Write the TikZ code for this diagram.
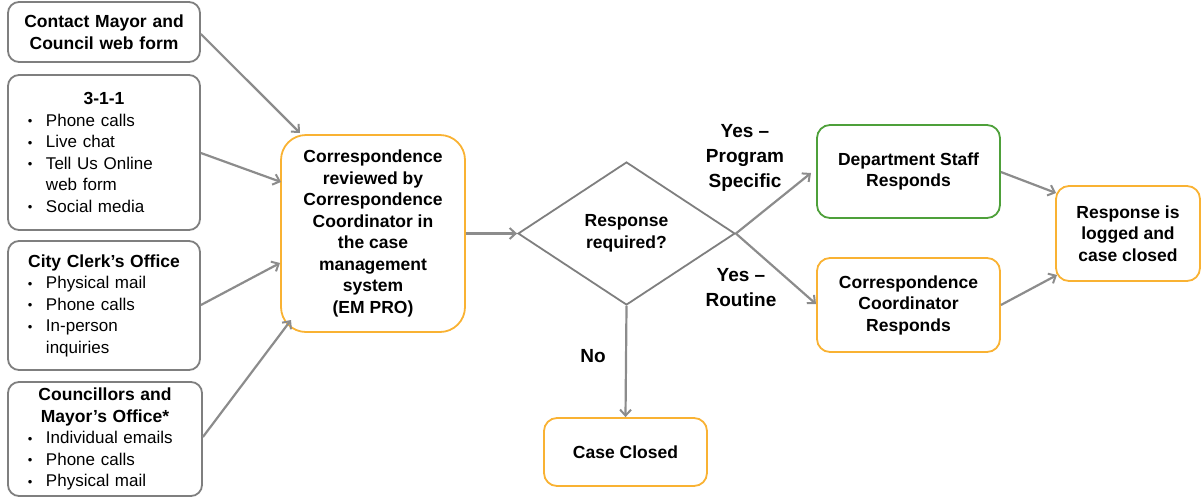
\documentclass[tikz,border=0pt]{standalone}
\usepackage{fontspec}
\setmainfont{Liberation Sans}
\usetikzlibrary{shapes.geometric,arrows.meta}
\definecolor{boxgray}{HTML}{7F7F7F}
\definecolor{arrgray}{HTML}{8C8C8C}
\definecolor{orng}{HTML}{F9B233}
\definecolor{grn}{HTML}{4EA03A}
\newcommand\bitem[1]{\par\hangindent=38pt\hangafter=1\noindent\hspace*{20pt}\makebox[18pt][l]{\raisebox{0.5pt}{\fontsize{13}{13}\selectfont\textbullet}}#1\par}
\begin{document}
\begin{tikzpicture}[x=1pt,y=-1pt,
  every node/.style={font=\fontsize{17}{21.5}\selectfont},
  srcbox/.style={draw=boxgray,line width=1.8pt,rounded corners=11pt,minimum width=192pt,text width=192pt,inner xsep=0pt,inner ysep=0pt,align=left},
  obox/.style={draw=orng,line width=1.8pt,rounded corners=13pt,align=center,font=\fontsize{17.5}{21.5}\selectfont\bfseries},
  gbox/.style={draw=grn,line width=1.8pt,rounded corners=13pt,align=center,font=\fontsize{17.5}{21.5}\selectfont\bfseries},
  arr/.style={draw=arrgray,line width=2.2pt,-{Straight Barb[length=6pt,width=11pt,line width=2pt]}},
  lbl/.style={align=center,font=\fontsize{19}{25}\selectfont\bfseries}
]
\useasboundingbox (0,0) rectangle (1204,499);
% sources
\node[srcbox,minimum height=60pt,align=center,font=\fontsize{17.5}{21.5}\selectfont\bfseries] (contact) at (104,32) {Contact Mayor and\\Council web form};
\node[srcbox,minimum height=155pt] (tto) at (104,152.5) {{\centering\bfseries\fontsize{17.5}{21.5}\selectfont 3-1-1\par}%
\bitem{Phone calls}\bitem{Live chat}\bitem{Tell Us Online\newline web form}\bitem{Social media}};
\node[srcbox,minimum height=129pt] (clerk) at (104,305.5) {{\centering\bfseries\fontsize{17.5}{21.5}\selectfont City Clerk’s Office\par}%
\bitem{Physical mail}\bitem{Phone calls}\bitem{In-person\newline inquiries}};
\node[srcbox,minimum height=114pt,minimum width=194pt,text width=194pt] (council) at (105,439) {{\centering\bfseries\fontsize{17.5}{21.5}\selectfont Councillors and\\ Mayor’s Office*\par}%
\bitem{Individual emails}\bitem{Phone calls}\bitem{Physical mail}};
% central
\node[obox,minimum width=184pt,minimum height=197pt,rounded corners=25pt] (review) at (373,233.5) {Correspondence\\reviewed by\\Correspondence\\Coordinator in\\the case\\management\\system\\(EM PRO)};
% decision
\node[draw=boxgray,line width=1.8pt,diamond,minimum width=217pt,minimum height=143pt,inner sep=0pt,align=center,font=\fontsize{17.5}{21.5}\selectfont\bfseries] (dec) at (626.5,233.5) {Response\\required?};
% outcomes
\node[gbox,minimum width=183pt,minimum height=93pt] (dept) at (908.5,171.5) {Department Staff\\Responds};
\node[obox,minimum width=183pt,minimum height=94pt] (coord) at (908.5,305) {Correspondence\\Coordinator\\Responds};
\node[obox,minimum width=144pt,minimum height=95pt] (logged) at (1128,233.5) {Response is\\logged and\\case closed};
\node[obox,minimum width=163pt,minimum height=68pt] (closed) at (625.5,452) {Case Closed};
% labels
\node[lbl] (lps) at (745,158) {Yes –\\Program\\Specific};
\node[lbl] (lrt) at (741,288) {Yes –\\Routine};
\node[lbl] (lno) at (593,356) {No};
% connectors
\coordinate (c1) at (300,133);
\coordinate (c2) at (281,182);
\coordinate (c3) at (280,263);
\coordinate (c4) at (291,320);
\draw[arr] (contact.east |- 0,34) -- (c1);
\draw[arr] (tto.east |- 0,153) -- (c2);
\draw[arr] (clerk.east |- 0,305) -- (c3);
\draw[arr] (council.east |- 0,437) -- (c4);
\draw[arr] (review.east) -- (dec.west);
\coordinate (d1) at (811,173);
\coordinate (d2) at (816,304);
\draw[arr] (dec.east) -- (d1);
\draw[arr] (dec.east) -- (d2);
\draw[arr] (dec.south) -- (closed.north);
\coordinate (e1) at (1056,193);
\coordinate (e2) at (1057,275);
\draw[arr] (dept.east |- 0,172) -- (e1);
\draw[arr] (coord.east |- 0,305) -- (e2);
\end{tikzpicture}
\end{document}
